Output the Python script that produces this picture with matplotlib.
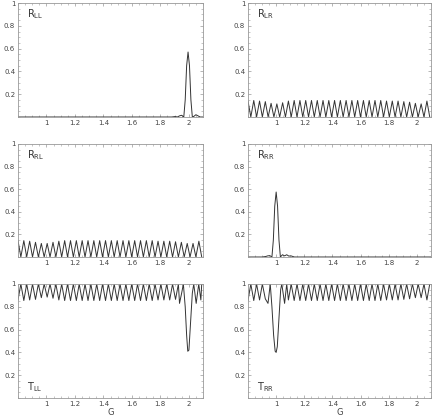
import numpy as np
import matplotlib
matplotlib.use("Agg")
import matplotlib.pyplot as plt
from matplotlib.ticker import MultipleLocator

# positions of the oscillation maxima / minima
peak_x = [0.800, 0.841, 0.882, 0.923, 0.964, 1.005, 1.046, 1.087, 1.128, 1.169,
          1.210, 1.251, 1.292, 1.333, 1.374, 1.415, 1.456, 1.497, 1.538, 1.579,
          1.620, 1.661, 1.702, 1.743, 1.784, 1.825, 1.866, 1.907, 1.948, 1.989,
          2.030, 2.071]
trough_x = [0.820, 0.861, 0.902, 0.943, 0.984, 1.025, 1.066, 1.107, 1.148, 1.189,
            1.230, 1.271, 1.312, 1.353, 1.394, 1.435, 1.476, 1.517, 1.558, 1.599,
            1.640, 1.681, 1.722, 1.763, 1.804, 1.845, 1.886, 1.927, 1.968, 2.009,
            2.050, 2.091]

# heights of R_LR / R_RL oscillation peaks
rlr_peak = [0.14, 0.145, 0.14, 0.135, 0.12, 0.115, 0.125, 0.14, 0.145, 0.145,
            0.145, 0.145, 0.145, 0.145, 0.145, 0.145, 0.145, 0.145, 0.145, 0.145,
            0.145, 0.145, 0.145, 0.145, 0.14, 0.14, 0.14, 0.135, 0.13, 0.12,
            0.115, 0.14]
rrl_peak = [0.145, 0.145, 0.14, 0.13, 0.12, 0.12, 0.13, 0.14, 0.145, 0.145,
            0.145, 0.145, 0.145, 0.145, 0.145, 0.145, 0.145, 0.145, 0.145, 0.145,
            0.145, 0.145, 0.145, 0.145, 0.14, 0.14, 0.14, 0.135, 0.13, 0.12,
            0.12, 0.14]

# T minima at the oscillation peaks
tll_low = [0.86, 0.855, 0.86, 0.865, 0.88, 0.885, 0.875, 0.86, 0.855, 0.855,
           0.855, 0.855, 0.855, 0.855, 0.855, 0.855, 0.855, 0.855, 0.855, 0.855,
           0.855, 0.855, 0.855, 0.855, 0.86, 0.86, 0.86, 0.865, 0.87, 0.88,
           0.885, 0.86]
trr_low = [0.855, 0.855, 0.86, 0.87, 0.88, 0.88, 0.87, 0.86, 0.855, 0.855,
           0.855, 0.855, 0.855, 0.855, 0.855, 0.855, 0.855, 0.855, 0.855, 0.855,
           0.855, 0.855, 0.855, 0.855, 0.86, 0.86, 0.86, 0.865, 0.87, 0.88,
           0.88, 0.86]

# resonance features
rll_x = [0.80, 1.88, 1.905, 1.92, 1.935, 1.95, 1.965, 1.975, 1.985, 1.995,
         2.005, 2.015, 2.025, 2.035, 2.05, 2.065, 2.08, 2.10]
rll_y = [0.0, 0.0, 0.004, 0.0, 0.01, 0.015, 0.0, 0.15, 0.45, 0.57,
         0.45, 0.15, 0.0, 0.005, 0.02, 0.01, 0.0, 0.0]
rrr_x = [0.80, 0.90, 0.925, 0.94, 0.955, 0.97, 0.98, 0.99, 1.0, 1.01,
         1.02, 1.03, 1.045, 1.06, 1.075, 1.09, 1.105, 1.13, 2.10]
rrr_y = [0.0, 0.0, 0.004, 0.01, 0.012, 0.0, 0.15, 0.45, 0.575, 0.45,
         0.15, 0.0, 0.02, 0.01, 0.02, 0.008, 0.01, 0.0, 0.0]
tll_dip_x = [1.935, 1.950, 1.962, 1.975, 1.985, 1.993, 2.001, 2.012, 2.025,
             2.035, 2.052, 2.070, 2.085]
tll_dip_y = [0.83, 0.92, 1.0, 0.80, 0.55, 0.41, 0.42, 0.65, 0.92,
             1.0, 0.83, 1.0, 0.86]
trr_dip_x = [0.942, 0.958, 0.970, 0.982, 0.993, 1.000, 1.008, 1.020, 1.032,
             1.040, 1.060, 1.075]
trr_dip_y = [0.83, 1.0, 0.80, 0.55, 0.41, 0.40, 0.45, 0.70, 0.95,
             1.0, 0.83, 1.0]

x_ticks = [1, 1.2, 1.4, 1.6, 1.8, 2]
x_ticklabels = ["1", "1.2", "1.4", "1.6", "1.8", "2"]
y_ticks = [0.2, 0.4, 0.6, 0.8, 1]
y_ticklabels = ["0.2", "0.4", "0.6", "0.8", "1"]


def zigzag(tops_x, tops_y, lows_x, lows_y, dip_x=None, dip_y=None, window=None):
    pts = list(zip(tops_x, tops_y)) + list(zip(lows_x, lows_y))
    if window is not None:
        pts = [p for p in pts if not (window[0] < p[0] < window[1])]
        pts += list(zip(dip_x, dip_y))
    pts.sort()
    xs, ys = zip(*pts)
    return xs, ys


fig = plt.figure(figsize=(4.36, 4.18), dpi=100)
W, H = 436.0, 418.0
cols = [(18, 185), (248, 183)]
rows = [(3, 117), (144, 257), (284, 398)]

panels = [
    (0, 0, "R", "LL", "top", (rll_x, rll_y)),
    (0, 1, "R", "LR", "top", zigzag(peak_x, rlr_peak, trough_x, [0] * len(trough_x))),
    (1, 0, "R", "RL", "top", zigzag(peak_x, rrl_peak, trough_x, [0] * len(trough_x))),
    (1, 1, "R", "RR", "top", (rrr_x, rrr_y)),
    (2, 0, "T", "LL", "bottom", zigzag(trough_x, [1.0] * len(trough_x), peak_x, tll_low,
                                        tll_dip_x, tll_dip_y, (1.93, 2.09))),
    (2, 1, "T", "RR", "bottom", zigzag(trough_x, [1.0] * len(trough_x), peak_x, trr_low,
                                        trr_dip_x, trr_dip_y, (0.935, 1.08))),
]

for r, c, letter, sub, where, (xs, ys) in panels:
    left, width = cols[c]
    top, bottom = rows[r]
    ax = fig.add_axes([left / W, 1 - bottom / H, width / W, (bottom - top) / H])
    ax.plot(xs, ys, color="#333333", lw=0.7)
    ax.set_xlim(0.8, 2.1)
    ax.set_ylim(0, 1)
    ax.set_xticks(x_ticks)
    ax.set_xticklabels(x_ticklabels)
    ax.set_yticks(y_ticks)
    ax.set_yticklabels(y_ticklabels)
    ax.xaxis.set_minor_locator(MultipleLocator(0.05))
    ax.yaxis.set_minor_locator(MultipleLocator(0.05))
    ax.tick_params(which="both", direction="in", top=True, right=True,
                   color="#999999", labelsize=5, labelcolor="#444444", pad=2)
    ax.tick_params(which="major", length=2.5, width=0.5)
    ax.tick_params(which="minor", length=1.2, width=0.4)
    for s in ax.spines.values():
        s.set_color("#999999")
        s.set_linewidth(0.6)
    ty = 0.96 if where == "top" else 0.16
    ax.text(0.05, ty, letter + r"$_{\mathrm{" + sub + r"}}$", transform=ax.transAxes,
            fontsize=7, color="#333333", va="top", ha="left")
    if r == 2:
        ax.set_xlabel("G", fontsize=6, color="#444444", labelpad=1)

fig.savefig("out.png", dpi=100)
